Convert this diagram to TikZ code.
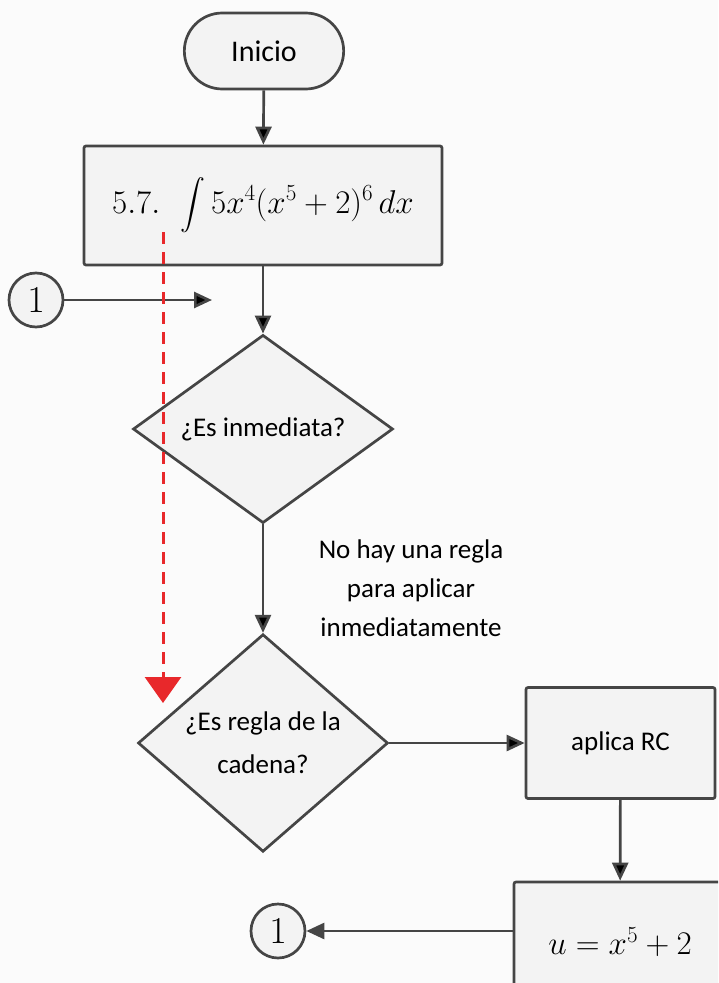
\RequirePackage{fix-cm}
\documentclass[tikz,border=0pt]{standalone}
\usepackage{amsmath}
\usepackage[no-math]{fontspec}
\setmainfont{Carlito}
\usepackage{tikz}
\usetikzlibrary{arrows.meta,shapes.geometric,shapes.misc}
\definecolor{linegray}{HTML}{454545}
\definecolor{boxfill}{HTML}{F3F3F3}
\definecolor{pagebg}{HTML}{FBFBFB}
\definecolor{hintred}{HTML}{E8282B}

\begin{document}
\begin{tikzpicture}[x=1pt,y=-1pt,font=\fontsize{27}{43}\selectfont,
  >={Triangle[length=18pt,width=16pt]}]
\tikzstyle{every node}=[draw=linegray,line width=2.7pt,fill=boxfill,text=black]
\tikzstyle{term}=[rounded rectangle,minimum width=166pt,minimum height=76pt,font=\fontsize{30}{36}\selectfont]
\tikzstyle{proc}=[rectangle,rounded corners=2pt]
\tikzstyle{decision}=[diamond,align=center,inner sep=0pt]
\tikzstyle{connector}=[circle,minimum size=54pt,inner sep=0pt,font=\fontsize{38}{40}\selectfont]
\tikzstyle{mathtext}=[font=\fontsize{33}{38}\selectfont]
\tikzstyle{flow}=[->,draw=linegray,line width=2.7pt]

% page
\fill[pagebg] (0,0) rectangle (718,983);
\useasboundingbox (0,0) rectangle (718,983);
\clip (0,0) rectangle (718,983);

\node[term] (inicio) at (264,51) {Inicio};
\node[proc,mathtext,minimum width=358pt,minimum height=119pt] (integral) at (263,205.5)
  {$\displaystyle 5.7.\ \ \int 5x^4(x^5+2)^6\,dx$};
\node[decision,minimum width=260pt,minimum height=178pt] (inmediata) at (263,429) {¿Es inmediata?};
\node[decision,minimum width=250pt,minimum height=177pt] (cadena) at (263,743) {¿Es regla de la\\cadena?};
\node[proc,minimum width=189pt,minimum height=111pt] (aplica) at (620.5,743) {aplica RC};
\node[proc,mathtext,minimum width=212pt,minimum height=120pt] (sustitucion) at (620,942) {$u=x^5+2$};
\node[connector] (c1a) at (36,300) {$1$};
\node[connector] (c1b) at (278,931) {$1$};
\node[draw=none,fill=none,align=center,font=\fontsize{27}{39}\selectfont] (nota) at (411,588)
  {No hay una regla\\para aplicar\\inmediatamente};

\coordinate (entrada) at (212,300);
\coordinate (pistaini) at (163,232);
\coordinate (pistafin) at (163,703);

\path[flow]
(inicio) edge (integral)
(integral) edge (inmediata)
(inmediata) edge (cadena)
(cadena) edge (aplica)
(aplica) edge (sustitucion)
(c1a) edge (entrada)
;
\draw[flow] (sustitucion.west |- c1b) -- (c1b);

% red hint
\draw[hintred,line width=3pt,dash pattern=on 12pt off 8pt,
  -{Triangle[length=26pt,width=36pt]}] (pistaini) -- (pistafin);
\end{tikzpicture}
\end{document}
